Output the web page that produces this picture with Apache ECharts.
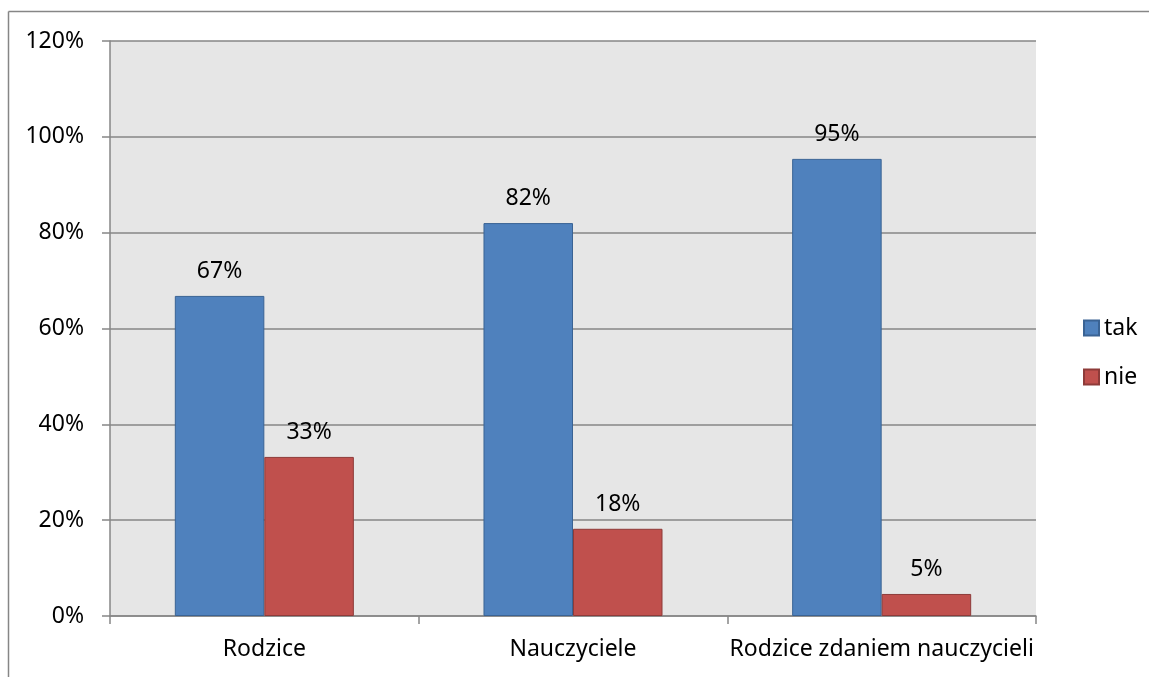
<!DOCTYPE html>
<html>
<head>
<meta charset="utf-8">
<script src="https://cdn.jsdelivr.net/npm/echarts@6/dist/echarts.min.js"></script>
<style>
html,body{margin:0;padding:0;background:#fff;overflow:hidden;}
#c{width:1149px;height:677px;}
</style>
</head>
<body>
<div id="c"></div>
<script>
const categories = ['Rodzice', 'Nauczyciele', 'Rodzice zdaniem nauczycieli'];
const takValues = [66.8, 82.0, 95.4];
const nieValues = [33.2, 18.2, 4.6];
const seriesNames = ['tak', 'nie'];
const yTicks = [0, 20, 40, 60, 80, 100, 120];

const FONT = 'Noto Sans';
const FS = 23;
const chart = echarts.init(document.getElementById('c'));
const labelCfg = {
  show: true, position: 'top', distance: 13,
  fontFamily: FONT, fontSize: FS, color: '#000',
  formatter: p => Math.round(p.value) + '%'
};
chart.setOption({
  animation: false,
  backgroundColor: '#fff',
  textStyle: { fontFamily: FONT },
  graphic: [
    { type: 'line', z: -10, shape: { x1: 8.5, y1: 11.5, x2: 8.5, y2: 677 },
      style: { stroke: '#868686', lineWidth: 1.5 } },
    { type: 'line', z: -10, shape: { x1: 8.5, y1: 11.5, x2: 1149, y2: 11.5 },
      style: { stroke: '#868686', lineWidth: 1.5 } }
  ],
  grid: {
    left: 110, right: 113, top: 41, bottom: 61,
    show: true, backgroundColor: '#e6e6e6', borderWidth: 0
  },
  legend: {
    orient: 'vertical', left: 1078, top: 311,
    itemWidth: 15, itemHeight: 15, itemGap: 25, icon: 'rect',
    textStyle: { fontFamily: FONT, fontSize: FS, color: '#000', lineHeight: 24 },
    data: seriesNames
  },
  xAxis: {
    type: 'category', data: categories,
    axisLine: { lineStyle: { color: '#868686', width: 1.5 } },
    axisTick: { show: true, length: 8, lineStyle: { color: '#868686', width: 1.5 } },
    axisLabel: { interval: 0, fontFamily: FONT, fontSize: FS, color: '#000', margin: 22 },
    splitLine: { show: false }
  },
  yAxis: {
    type: 'value', min: yTicks[0], max: yTicks[yTicks.length - 1], interval: 20,
    axisLine: { show: true, lineStyle: { color: '#868686', width: 1.5 } },
    axisTick: { show: true, length: 8, lineStyle: { color: '#868686', width: 1.5 } },
    axisLabel: { fontFamily: FONT, fontSize: FS, color: '#000', margin: 26, formatter: v => v + '%' },
    splitLine: { show: true, lineStyle: { color: '#868686', width: 1.5 } }
  },
  series: [
    {
      name: seriesNames[0], type: 'bar', data: takValues,
      barGap: '0%', barCategoryGap: '42%',
      itemStyle: { color: '#4F81BD', borderColor: '#3A6394', borderWidth: 1 },
      label: labelCfg
    },
    {
      name: seriesNames[1], type: 'bar', data: nieValues,
      itemStyle: { color: '#C0504D', borderColor: '#8E3B39', borderWidth: 1 },
      label: labelCfg
    }
  ]
});
</script>
</body>
</html>
